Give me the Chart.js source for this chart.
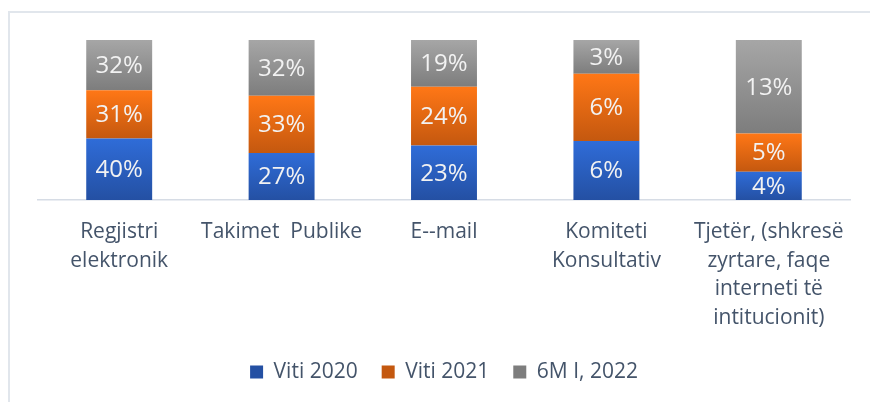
<!DOCTYPE html>
<html>
<head>
<meta charset="utf-8">
<script src="https://cdn.jsdelivr.net/npm/chart.js@4"></script>
<style>
  html, body { margin: 0; padding: 0; background: #fff; }
  .wrap { position: relative; width: 870px; height: 402px; overflow: hidden; }
  .frame { position: absolute; left: 8px; top: 11px; width: 900px; height: 500px; border: 2px solid #E1E6EC; }
  canvas { position: absolute; left: 0; top: 0; }
</style>
</head>
<body>
<div class="wrap">
  <div class="frame"></div>
  <canvas id="chart" width="870" height="402"></canvas>
</div>
<script>
// kategorite
const kategorite = [
  ["Regjistri", "elektronik"],
  ["Takimet  Publike"],
  ["E--mail"],
  ["Komiteti", "Konsultativ"],
  ["Tjetër, (shkresë", "zyrtare, faqe", "interneti të", "intitucionit)"]
];
const seriet = ["Viti 2020", "Viti 2021", "6M I, 2022"];

// vlerat (%)
const viti2020 = [39.6, 27, 22.6, 5.6, 4];
const viti2021 = [31, 33, 24.4, 6.4, 5.4];
const gjashteMujori2022 = [32.4, 32, 19.4, 3.2, 13.2];

const vlerat = [viti2020, viti2021, gjashteMujori2022];
const ngjyrat = [
  ["#2F6CD8", "#2450A3", "#2A5FC1"],
  ["#FF7716", "#C4580F", "#EE6A10"],
  ["#A6A6A6", "#7D7D7D", "#929292"]
];

// 100% stacked: pjesa e secilit segment
const totalet = kategorite.map((_, i) => vlerat.reduce((s, arr) => s + arr[i], 0));
const pjeset = vlerat.map((arr) => arr.map((v, i) => (v / totalet[i]) * 100));

function gradient(ctx, k) {
  const chart = ctx.chart;
  const c = ngjyrat[k];
  if (!chart.chartArea || ctx.dataIndex === undefined) return c[2];
  const y = chart.scales.y;
  let start = 0;
  for (let d = 0; d < ctx.datasetIndex; d++) start += pjeset[d][ctx.dataIndex];
  const end = start + pjeset[ctx.datasetIndex][ctx.dataIndex];
  const g = chart.ctx.createLinearGradient(0, y.getPixelForValue(end), 0, y.getPixelForValue(start));
  g.addColorStop(0, c[0]);
  g.addColorStop(1, c[1]);
  return g;
}

const etiketat = {
  id: "etiketat",
  afterDatasetsDraw(chart) {
    const ctx = chart.ctx;
    ctx.save();
    ctx.font = "24px 'Open Sans'";
    ctx.fillStyle = "#F2F2F2";
    ctx.textAlign = "center";
    ctx.textBaseline = "middle";
    chart.data.datasets.forEach((ds, d) => {
      chart.getDatasetMeta(d).data.forEach((el, i) => {
        const txt = Math.round(vlerat[d][i]) + "%";
        ctx.fillText(txt, el.x, (el.y + el.base) / 2 + 1);
      });
    });
    ctx.restore();
  }
};

new Chart(document.getElementById("chart"), {
  type: "bar",
  data: {
    labels: kategorite,
    datasets: seriet.map((s, k) => ({
      label: s,
      data: pjeset[k],
      backgroundColor: (ctx) => gradient(ctx, k),
      borderWidth: 0,
      barPercentage: 0.406,
      categoryPercentage: 1
    }))
  },
  options: {
    responsive: false,
    animation: false,
    layout: { padding: { top: 40, left: 38, right: 20, bottom: 9.5 } },
    scales: {
      x: {
        stacked: true,
        grid: { display: false, drawTicks: false, tickLength: 0 },
        border: { display: true, color: "#D6DCE5", width: 1.5 },
        ticks: {
          color: "#44546A",
          font: { family: "Open Sans", size: 21, lineHeight: 1.36 },
          padding: 18,
          maxRotation: 0,
          autoSkip: false
        },
        afterFit(axis) { axis.height = 137.5; }
      },
      y: {
        stacked: true,
        min: 0,
        max: 100,
        display: false
      }
    },
    plugins: {
      legend: {
        position: "bottom",
        labels: {
          color: "#44546A",
          font: { family: "Open Sans", size: 21 },
          boxWidth: 13,
          boxHeight: 13,
          padding: 24
        }
      },
      tooltip: { enabled: false }
    }
  },
  plugins: [etiketat]
});
</script>
</body>
</html>
